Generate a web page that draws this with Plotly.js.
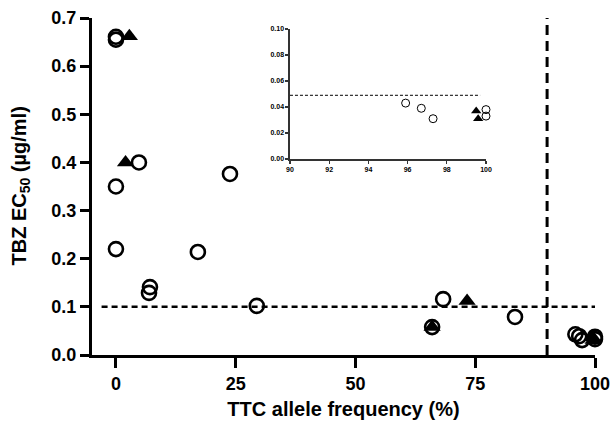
<!DOCTYPE html>
<html>
<head>
<meta charset="utf-8">
<script src="https://cdn.plot.ly/plotly-3.0.1.min.js"></script>
<style>html,body{margin:0;padding:0;background:#fff;}#chart{width:613px;height:425px;}</style>
</head>
<body>
<div id="chart"></div>
<script>
// TTC allele frequency (%) and TBZ EC50 (ug/ml)
const circleX = [0, 0, 4.8, 0, 23.8, 0, 17.1, 7.1, 6.9, 29.4, 68.3, 83.3, 66, 95.9, 96.7, 97.3, 100, 100];
const circleY = [0.661, 0.655, 0.40, 0.35, 0.376, 0.22, 0.214, 0.141, 0.129, 0.102, 0.116, 0.079, 0.058, 0.043, 0.039, 0.031, 0.038, 0.033];
const triangleX = [2.8, 2.0, 73.3, 66, 99.5, 99.6];
const triangleY = [0.662, 0.40, 0.112, 0.058, 0.037, 0.031];
const mainThresholdY = 0.1;
const frequencyCutoffX = 90;
const insetThresholdY = 0.049;
const insetMinX = 90;
const mainXTicks = [0, 25, 50, 75, 100];
const mainYTicks = [0, 0.1, 0.2, 0.3, 0.4, 0.5, 0.6, 0.7];
const insetXTicks = [90, 92, 94, 96, 98, 100];
const insetYTicks = [0, 0.02, 0.04, 0.06, 0.08, 0.10];

const insetCX = [], insetCY = [], insetTX = [], insetTY = [];
circleX.forEach((x, i) => { if (x >= insetMinX) { insetCX.push(x); insetCY.push(circleY[i]); } });
triangleX.forEach((x, i) => { if (x >= insetMinX) { insetTX.push(x); insetTY.push(triangleY[i]); } });

const traces = [
  {x: circleX, y: circleY, type: 'scatter', mode: 'markers', cliponaxis: false, hoverinfo: 'skip',
   marker: {symbol: 'circle-open', size: 14, color: '#000', line: {width: 2.6, color: '#000'}}},
  {x: triangleX, y: triangleY, type: 'scatter', mode: 'markers', cliponaxis: false, hoverinfo: 'skip',
   marker: {symbol: 'triangle-up', size: 15, color: '#000', line: {width: 0}}},
  {x: insetCX, y: insetCY, xaxis: 'x2', yaxis: 'y2', type: 'scatter', mode: 'markers', cliponaxis: false, hoverinfo: 'skip',
   marker: {symbol: 'circle-open', size: 8, color: '#000', line: {width: 1, color: '#000'}}},
  {x: insetTX, y: insetTY, xaxis: 'x2', yaxis: 'y2', type: 'scatter', mode: 'markers', cliponaxis: false, hoverinfo: 'skip',
   marker: {symbol: 'triangle-up', size: 9, color: '#000', line: {width: 0}}}
];

const boldFont = 'Liberation Sans, Arial, sans-serif';
const layout = {
  width: 613, height: 425,
  margin: {l: 92, r: 18, t: 18, b: 70},
  paper_bgcolor: '#fff', plot_bgcolor: 'rgba(0,0,0,0)',
  showlegend: false,
  font: {family: boldFont, color: '#000'},
  xaxis: {
    range: [-5, 100], tickvals: mainXTicks, ticktext: mainXTicks.map(String),
    showgrid: false, zeroline: false, showline: true, linecolor: '#000', linewidth: 3,
    ticks: 'outside', ticklen: 10, tickwidth: 3, tickcolor: '#000',
    tickfont: {size: 18, family: boldFont, weight: 'bold', color: '#000'},
    title: {text: '<b>TTC allele frequency (%)</b>', font: {size: 20, family: boldFont, color: '#000'}, standoff: 10},
    anchor: 'y'
  },
  yaxis: {
    range: [0, 0.7], tickvals: mainYTicks, ticktext: mainYTicks.map(v => v.toFixed(1)),
    showgrid: false, zeroline: false, showline: true, linecolor: '#000', linewidth: 3,
    ticks: 'outside', ticklen: 9, tickwidth: 3, tickcolor: '#000',
    tickfont: {size: 18, family: boldFont, weight: 'bold', color: '#000'},
    anchor: 'x'
  },
  xaxis2: {
    domain: [0.3936, 0.7833], range: [90, 100], tickvals: insetXTicks, ticktext: insetXTicks.map(String),
    showgrid: false, zeroline: false, showline: true, linecolor: '#333', linewidth: 1.5,
    ticks: 'outside', ticklen: 3, tickwidth: 1.2, tickcolor: '#333',
    tickfont: {size: 7, family: boldFont, weight: 'bold', color: '#000'}, anchor: 'y2'
  },
  yaxis2: {
    domain: [0.5816, 0.9674], range: [0, 0.1], tickvals: insetYTicks, ticktext: insetYTicks.map(v => v.toFixed(2)),
    showgrid: false, zeroline: false, showline: true, linecolor: '#333', linewidth: 1.5,
    ticks: 'outside', ticklen: 3, tickwidth: 1.2, tickcolor: '#333',
    tickfont: {size: 7, family: boldFont, weight: 'bold', color: '#000'}, anchor: 'x2'
  },
  annotations: [
    {text: '<b>TBZ EC<sub>50</sub> (µg/ml)</b>', xref: 'paper', yref: 'paper',
     x: (20 - 92) / 503, y: 0.5, xanchor: 'center', yanchor: 'middle', textangle: -90, showarrow: false,
     font: {size: 20, family: boldFont, color: '#000'}}
  ],
  shapes: [
    {type: 'line', xref: 'x', yref: 'y', x0: -3, x1: 100, y0: mainThresholdY, y1: mainThresholdY,
     line: {color: '#000', width: 2.5, dash: '6px,4px'}},
    {type: 'line', xref: 'x', yref: 'y', x0: frequencyCutoffX, x1: frequencyCutoffX, y0: 0, y1: 0.7,
     line: {color: '#000', width: 3, dash: '10px,6px'}},
    {type: 'line', xref: 'x2', yref: 'y2', x0: insetMinX, x1: 99.7, y0: insetThresholdY, y1: insetThresholdY,
     line: {color: '#000', width: 1, dash: '3px,2px'}}
  ]
};

Plotly.newPlot('chart', traces, layout, {staticPlot: true, displayModeBar: false});
</script>
</body>
</html>
